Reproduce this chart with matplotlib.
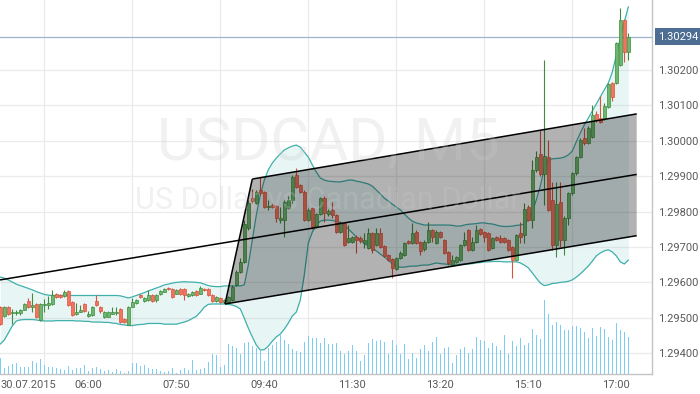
import matplotlib
matplotlib.use("Agg")
import matplotlib.pyplot as plt
import numpy as np
import pandas as pd
from matplotlib.patches import Polygon
from matplotlib.transforms import blended_transform_factory

plt.rcParams['font.family'] = ['Roboto', 'DejaVu Sans']

# ---------------- data (USDCAD, M5, 30.07.2015 from 04:10) ----------------
opens = [
 1.29530, 1.29505, 1.29530, 1.29514, 1.29514, 1.29514, 1.29522, 1.29547, 1.29530, 1.29539,
 1.29494, 1.29536, 1.29536, 1.29539, 1.29567, 1.29564, 1.29562, 1.29576, 1.29545, 1.29511,
 1.29516, 1.29539, 1.29505, 1.29508, 1.29547, 1.29530, 1.29502, 1.29502, 1.29511, 1.29514,
 1.29525, 1.29497, 1.29480, 1.29530, 1.29542, 1.29564, 1.29547, 1.29550, 1.29564, 1.29550,
 1.29567, 1.29573, 1.29584, 1.29581, 1.29567, 1.29581, 1.29581, 1.29562, 1.29564, 1.29576,
 1.29567, 1.29581, 1.29581, 1.29564, 1.29547, 1.29556, 1.29545, 1.29545, 1.29550, 1.29593,
 1.29629, 1.29658, 1.29754, 1.29838, 1.29824, 1.29861, 1.29855, 1.29813, 1.29819, 1.29816,
 1.29776, 1.29776, 1.29810, 1.29833, 1.29903, 1.29875, 1.29855, 1.29776, 1.29810, 1.29756,
 1.29793, 1.29838, 1.29793, 1.29805, 1.29790, 1.29742, 1.29768, 1.29714, 1.29714, 1.29728,
 1.29725, 1.29711, 1.29697, 1.29740, 1.29706, 1.29740, 1.29703, 1.29677, 1.29666, 1.29638,
 1.29669, 1.29677, 1.29717, 1.29711, 1.29742, 1.29714, 1.29694, 1.29714, 1.29748, 1.29711,
 1.29742, 1.29720, 1.29686, 1.29649, 1.29658, 1.29663, 1.29706, 1.29748, 1.29692, 1.29714,
 1.29751, 1.29742, 1.29740, 1.29697, 1.29728, 1.29725, 1.29725, 1.29720, 1.29700, 1.29663,
 1.29740, 1.29734, 1.29813, 1.29776, 1.29918, 1.29963, 1.29906, 1.29954, 1.29833, 1.29706,
 1.29827, 1.29720, 1.29782, 1.29853, 1.29909, 1.29954, 1.30008, 1.29994, 1.30011, 1.30076,
 1.30064, 1.30064, 1.30095, 1.30163, 1.30163, 1.30214, 1.30341, 1.30251]
highs = [
 1.29533, 1.29533, 1.29533, 1.29525, 1.29522, 1.29525, 1.29542, 1.29556, 1.29570, 1.29542,
 1.29542, 1.29553, 1.29562, 1.29579, 1.29570, 1.29567, 1.29579, 1.29579, 1.29547, 1.29542,
 1.29536, 1.29542, 1.29519, 1.29533, 1.29564, 1.29533, 1.29519, 1.29519, 1.29530, 1.29530,
 1.29528, 1.29499, 1.29533, 1.29556, 1.29553, 1.29567, 1.29559, 1.29579, 1.29567, 1.29567,
 1.29579, 1.29584, 1.29587, 1.29584, 1.29581, 1.29584, 1.29584, 1.29570, 1.29576, 1.29579,
 1.29590, 1.29584, 1.29584, 1.29567, 1.29562, 1.29559, 1.29553, 1.29562, 1.29593, 1.29635,
 1.29669, 1.29776, 1.29833, 1.29864, 1.29861, 1.29898, 1.29858, 1.29833, 1.29824, 1.29819,
 1.29813, 1.29833, 1.29844, 1.29903, 1.29923, 1.29878, 1.29861, 1.29810, 1.29813, 1.29796,
 1.29841, 1.29844, 1.29807, 1.29827, 1.29793, 1.29773, 1.29771, 1.29762, 1.29731, 1.29734,
 1.29731, 1.29740, 1.29754, 1.29742, 1.29754, 1.29754, 1.29706, 1.29680, 1.29669, 1.29672,
 1.29689, 1.29714, 1.29720, 1.29768, 1.29748, 1.29717, 1.29720, 1.29771, 1.29751, 1.29748,
 1.29745, 1.29723, 1.29689, 1.29677, 1.29675, 1.29708, 1.29742, 1.29751, 1.29728, 1.29762,
 1.29754, 1.29745, 1.29742, 1.29728, 1.29731, 1.29734, 1.29728, 1.29723, 1.29703, 1.29737,
 1.29771, 1.29824, 1.29819, 1.29946, 1.29971, 1.30031, 1.30228, 1.30002, 1.29884, 1.29884,
 1.29884, 1.29788, 1.29855, 1.29912, 1.29957, 1.30008, 1.30036, 1.30042, 1.30101, 1.30084,
 1.30127, 1.30107, 1.30163, 1.30166, 1.30279, 1.30375, 1.30344, 1.30305]
lows = [
 1.29480, 1.29502, 1.29508, 1.29482, 1.29508, 1.29508, 1.29522, 1.29528, 1.29516, 1.29499,
 1.29491, 1.29516, 1.29525, 1.29536, 1.29556, 1.29556, 1.29559, 1.29533, 1.29505, 1.29508,
 1.29516, 1.29516, 1.29502, 1.29505, 1.29533, 1.29514, 1.29499, 1.29502, 1.29511, 1.29508,
 1.29485, 1.29485, 1.29480, 1.29530, 1.29539, 1.29556, 1.29545, 1.29547, 1.29545, 1.29545,
 1.29564, 1.29573, 1.29579, 1.29556, 1.29567, 1.29564, 1.29550, 1.29559, 1.29562, 1.29562,
 1.29567, 1.29576, 1.29562, 1.29545, 1.29545, 1.29542, 1.29542, 1.29542, 1.29547, 1.29590,
 1.29627, 1.29655, 1.29748, 1.29824, 1.29821, 1.29847, 1.29810, 1.29805, 1.29810, 1.29771,
 1.29768, 1.29728, 1.29807, 1.29824, 1.29867, 1.29853, 1.29773, 1.29773, 1.29751, 1.29754,
 1.29790, 1.29771, 1.29788, 1.29782, 1.29740, 1.29740, 1.29703, 1.29711, 1.29711, 1.29683,
 1.29711, 1.29697, 1.29694, 1.29683, 1.29703, 1.29697, 1.29672, 1.29660, 1.29612, 1.29635,
 1.29666, 1.29675, 1.29708, 1.29708, 1.29708, 1.29677, 1.29689, 1.29711, 1.29714, 1.29708,
 1.29725, 1.29680, 1.29649, 1.29646, 1.29655, 1.29660, 1.29703, 1.29689, 1.29689, 1.29711,
 1.29734, 1.29714, 1.29689, 1.29694, 1.29717, 1.29711, 1.29711, 1.29689, 1.29612, 1.29660,
 1.29711, 1.29711, 1.29773, 1.29754, 1.29912, 1.29901, 1.29819, 1.29802, 1.29692, 1.29672,
 1.29700, 1.29677, 1.29762, 1.29847, 1.29903, 1.29951, 1.29988, 1.29991, 1.30008, 1.30053,
 1.30050, 1.30059, 1.30093, 1.30112, 1.30160, 1.30211, 1.30223, 1.30228]
closes = [
 1.29482, 1.29530, 1.29511, 1.29516, 1.29516, 1.29522, 1.29539, 1.29530, 1.29536, 1.29502,
 1.29539, 1.29539, 1.29542, 1.29564, 1.29559, 1.29559, 1.29573, 1.29536, 1.29508, 1.29516,
 1.29522, 1.29519, 1.29511, 1.29530, 1.29536, 1.29519, 1.29516, 1.29516, 1.29516, 1.29516,
 1.29488, 1.29488, 1.29530, 1.29545, 1.29550, 1.29559, 1.29556, 1.29564, 1.29547, 1.29564,
 1.29576, 1.29581, 1.29581, 1.29559, 1.29579, 1.29567, 1.29564, 1.29567, 1.29573, 1.29564,
 1.29584, 1.29579, 1.29564, 1.29547, 1.29559, 1.29545, 1.29550, 1.29559, 1.29587, 1.29629,
 1.29658, 1.29765, 1.29824, 1.29830, 1.29855, 1.29853, 1.29813, 1.29816, 1.29813, 1.29782,
 1.29782, 1.29827, 1.29833, 1.29898, 1.29869, 1.29855, 1.29776, 1.29805, 1.29756, 1.29793,
 1.29838, 1.29796, 1.29802, 1.29790, 1.29742, 1.29768, 1.29706, 1.29725, 1.29728, 1.29720,
 1.29717, 1.29720, 1.29740, 1.29692, 1.29740, 1.29700, 1.29675, 1.29663, 1.29641, 1.29669,
 1.29683, 1.29711, 1.29711, 1.29740, 1.29711, 1.29689, 1.29714, 1.29748, 1.29728, 1.29742,
 1.29728, 1.29683, 1.29655, 1.29663, 1.29672, 1.29706, 1.29720, 1.29692, 1.29714, 1.29748,
 1.29737, 1.29728, 1.29692, 1.29725, 1.29720, 1.29714, 1.29714, 1.29692, 1.29663, 1.29734,
 1.29728, 1.29807, 1.29776, 1.29918, 1.29954, 1.29906, 1.29957, 1.29805, 1.29706, 1.29821,
 1.29720, 1.29782, 1.29853, 1.29909, 1.29954, 1.30002, 1.29994, 1.30036, 1.30073, 1.30059,
 1.30053, 1.30098, 1.30160, 1.30124, 1.30276, 1.30341, 1.30251, 1.30294]
bb_upper = [
 1.29615, 1.29612, 1.29607, 1.29601, 1.29595, 1.29591, 1.29587, 1.29583, 1.29579, 1.29574,
 1.29570, 1.29566, 1.29564, 1.29563, 1.29563, 1.29563, 1.29564, 1.29563, 1.29563, 1.29563,
 1.29563, 1.29563, 1.29563, 1.29563, 1.29563, 1.29563, 1.29563, 1.29563, 1.29563, 1.29563,
 1.29562, 1.29559, 1.29556, 1.29559, 1.29563, 1.29567, 1.29571, 1.29576, 1.29580, 1.29584,
 1.29588, 1.29593, 1.29595, 1.29598, 1.29600, 1.29601, 1.29602, 1.29601, 1.29601, 1.29600,
 1.29599, 1.29595, 1.29591, 1.29589, 1.29588, 1.29588, 1.29590, 1.29590, 1.29590, 1.29590,
 1.29590, 1.29593, 1.29649, 1.29720, 1.29790, 1.29847, 1.29889, 1.29918, 1.29937, 1.29951,
 1.29963, 1.29974, 1.29980, 1.29985, 1.29988, 1.29982, 1.29968, 1.29954, 1.29932, 1.29912,
 1.29895, 1.29889, 1.29886, 1.29885, 1.29884, 1.29884, 1.29886, 1.29889, 1.29889, 1.29886,
 1.29884, 1.29881, 1.29878, 1.29872, 1.29861, 1.29850, 1.29838, 1.29830, 1.29821, 1.29813,
 1.29805, 1.29793, 1.29782, 1.29773, 1.29768, 1.29765, 1.29762, 1.29762, 1.29762, 1.29762,
 1.29762, 1.29762, 1.29762, 1.29761, 1.29759, 1.29759, 1.29762, 1.29764, 1.29765, 1.29766,
 1.29768, 1.29768, 1.29766, 1.29765, 1.29762, 1.29759, 1.29758, 1.29758, 1.29759, 1.29761,
 1.29762, 1.29765, 1.29776, 1.29799, 1.29833, 1.29872, 1.29923, 1.29946, 1.29949, 1.29950,
 1.29951, 1.29954, 1.29960, 1.29971, 1.29997, 1.30022, 1.30045, 1.30064, 1.30084, 1.30104,
 1.30124, 1.30144, 1.30163, 1.30194, 1.30242, 1.30290, 1.30336, 1.30378]
bb_lower = [
 1.29426, 1.29437, 1.29457, 1.29477, 1.29491, 1.29494, 1.29495, 1.29495, 1.29495, 1.29494,
 1.29492, 1.29491, 1.29491, 1.29491, 1.29492, 1.29492, 1.29492, 1.29492, 1.29492, 1.29491,
 1.29491, 1.29490, 1.29490, 1.29488, 1.29488, 1.29488, 1.29487, 1.29487, 1.29485, 1.29484,
 1.29481, 1.29480, 1.29478, 1.29478, 1.29480, 1.29481, 1.29482, 1.29484, 1.29484, 1.29484,
 1.29484, 1.29482, 1.29482, 1.29482, 1.29482, 1.29485, 1.29488, 1.29492, 1.29498, 1.29504,
 1.29516, 1.29530, 1.29538, 1.29539, 1.29539, 1.29539, 1.29539, 1.29538, 1.29536, 1.29532,
 1.29525, 1.29499, 1.29471, 1.29446, 1.29423, 1.29409, 1.29410, 1.29420, 1.29434, 1.29446,
 1.29454, 1.29468, 1.29485, 1.29505, 1.29516, 1.29550, 1.29621, 1.29711, 1.29742, 1.29762,
 1.29773, 1.29776, 1.29776, 1.29775, 1.29772, 1.29769, 1.29762, 1.29751, 1.29740, 1.29728,
 1.29720, 1.29710, 1.29703, 1.29697, 1.29689, 1.29680, 1.29672, 1.29663, 1.29652, 1.29646,
 1.29643, 1.29643, 1.29645, 1.29646, 1.29646, 1.29648, 1.29649, 1.29649, 1.29652, 1.29655,
 1.29653, 1.29652, 1.29651, 1.29649, 1.29649, 1.29651, 1.29652, 1.29652, 1.29653, 1.29655,
 1.29656, 1.29658, 1.29658, 1.29659, 1.29659, 1.29659, 1.29658, 1.29658, 1.29658, 1.29658,
 1.29655, 1.29649, 1.29641, 1.29627, 1.29612, 1.29598, 1.29591, 1.29593, 1.29597, 1.29598,
 1.29600, 1.29601, 1.29603, 1.29607, 1.29615, 1.29624, 1.29635, 1.29646, 1.29660, 1.29675,
 1.29683, 1.29689, 1.29692, 1.29686, 1.29675, 1.29658, 1.29652, 1.29663]
volumes = [
 163, 57, 83, 97, 107, 73, 73, 73, 130, 107,
 150, 90, 73, 73, 63, 50, 40, 83, 40, 57,
 63, 90, 30, 57, 73, 50, 30, 40, 23, 50,
 30, 7, 30, 113, 107, 83, 90, 63, 50, 50,
 30, 23, 30, 63, 13, 40, 63, 40, 140, 40,
 50, 63, 117, 200, 190, 73, 90, 297, 283, 263,
 197, 307, 323, 283, 257, 240, 130, 257, 290, 323,
 397, 340, 297, 250, 230, 217, 323, 380, 357, 357,
 310, 363, 300, 300, 313, 230, 200, 230, 290, 230,
 130, 190, 313, 350, 330, 340, 320, 200, 340, 290,
 200, 300, 150, 210, 160, 250, 290, 230, 320, 370,
 200, 260, 270, 110, 190, 250, 270, 210, 250, 370,
 340, 330, 260, 310, 280, 240, 390, 200, 330, 280,
 360, 290, 310, 450, 390, 350, 740, 600, 490, 520,
 490, 440, 440, 480, 480, 460, 420, 360, 460, 380,
 470, 450, 370, 340, 510, 440, 420, 370]

start_time = '2015-07-30 04:10'
time_labels = ['06:00', '07:50', '09:40', '11:30', '13:20', '15:10', '17:00']
date_label = '30.07.2015'
price_ticks = [1.294, 1.295, 1.296, 1.297, 1.298, 1.299, 1.300, 1.301, 1.302]

# drawn regression channel (bar index, price)
chan_left_low = (56.18, 1.29539)
chan_left_high = (63.0, 1.29892)
chan_right_high = (159.1, 1.30076)
chan_right_low = (159.1, 1.29732)
chan_mid = [(-0.075, 1.29607), (159.1, 1.29905)]

title_main = 'USDCAD, M5'
title_sub = 'US Dollar vs Canadian Dollar'

# ---------------- figure ----------------
opens = np.array(opens); highs = np.array(highs)
lows = np.array(lows); closes = np.array(closes)
n = len(opens)
idx = np.arange(n)
times = pd.date_range(start_time, periods=n, freq='5min')
tstr = [t.strftime('%H:%M') for t in times]

fig = plt.figure(figsize=(7.0, 3.94), dpi=100)
ax = fig.add_axes([0, 20 / 394, 652 / 700, 374 / 394])
ax.set_xlim(-0.075, 162.925)
ax.set_ylim(1.293412, 1.3039775)
ax.set_axisbelow(True)

# grid
ax.set_xticks(np.arange(0, 163, 11), minor=True)
ax.grid(True, which='minor', axis='x', color='#ebebeb', lw=0.9)
ax.grid(True, which='major', axis='y', color='#ebebeb', lw=0.9)

# Bollinger bands
ax.fill_between(idx, bb_lower, bb_upper, color='#49b3b0', alpha=0.12, lw=0, zorder=1)
ax.plot(idx, bb_upper, color='#3fb0ab', lw=0.9, zorder=2)
ax.plot(idx, bb_lower, color='#3fb0ab', lw=0.9, zorder=2)

# candles
up = closes >= opens
face = np.where(up, '#6cb86c', '#f4735c')
edge = np.where(up, '#3f8c3f', '#d9533d')
ax.vlines(idx, lows, highs, colors=edge, lw=0.8, zorder=3)
ax.bar(idx, np.abs(closes - opens), bottom=np.minimum(opens, closes), width=0.7,
       color=face, edgecolor=edge, linewidth=0.5, zorder=3.5)

# channel
poly = Polygon([chan_left_low, chan_left_high, chan_right_high, chan_right_low],
               closed=True, facecolor='black', alpha=0.30, edgecolor='none', zorder=4)
ax.add_patch(poly)
for a, b in [(chan_left_low, chan_left_high), (chan_left_high, chan_right_high),
             (chan_left_low, chan_right_low), tuple(chan_mid)]:
    ax.plot([a[0], b[0]], [a[1], b[1]], color='black', lw=1.1, zorder=5,
            solid_capstyle='butt')

# watermark
ax.text(0.503, 0.615, title_main, transform=ax.transAxes, ha='center', va='center',
        fontsize=43, color='#cacaca', alpha=0.26, zorder=6)
ax.text(0.503, 0.465, title_sub, transform=ax.transAxes, ha='center', va='center',
        fontsize=22, color='#cacaca', alpha=0.26, zorder=6)

# last price line + label
last = closes[-1]
ax.axhline(last, color='#9db4cc', lw=0.9, zorder=2.5)
ax.text(1.0093, last, f'{last:.5f}', transform=blended_transform_factory(ax.transAxes, ax.transData),
        ha='left', va='center', color='white', fontsize=8, clip_on=False, zorder=10,
        bbox=dict(boxstyle='square,pad=0.3', fc='#4e6d92', ec='none'))

# volume
axv = ax.twinx()
axv.set_ylim(0, max(volumes) * 374 / 74)
axv.bar(idx, volumes, width=0.32, color='#7ccdf5', lw=0)
axv.axis('off')
axv.set_xlim(ax.get_xlim())

# axes styling
for s in ['left', 'top']:
    ax.spines[s].set_visible(False)
for s in ['right', 'bottom']:
    ax.spines[s].set_color('#c4c4c4')
    ax.spines[s].set_linewidth(1.0)
ax.yaxis.tick_right()
ax.set_yticks(price_ticks)
ax.set_yticklabels([f'{p:.5f}' for p in price_ticks])
ax.tick_params(axis='y', length=0, pad=4.5, labelsize=8, labelcolor='#5a5a5a')

pos = [0] + [tstr.index(t) for t in time_labels]
ax.set_xticks(pos)
ax.set_xticklabels([date_label] + time_labels)
ax.tick_params(axis='x', which='both', length=0, pad=4.5, labelsize=8, labelcolor='#5a5a5a')
ax.get_xticklabels()[0].set_ha('left')
ax.get_xticklabels()[0].set_x(0)

fig.savefig('out.png', dpi=100)
